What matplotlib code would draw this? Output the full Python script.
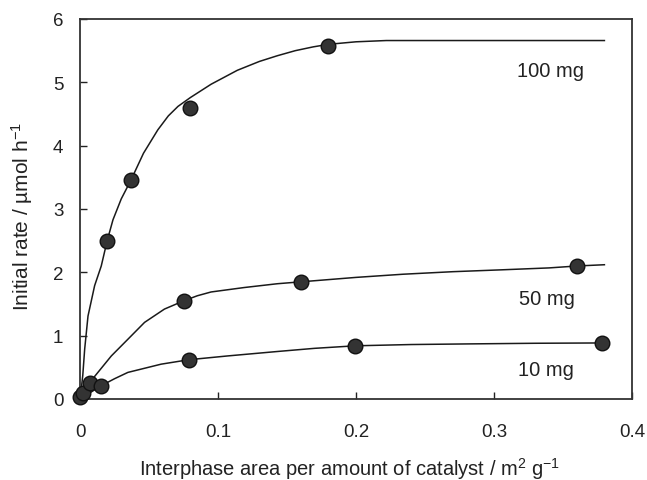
import matplotlib
matplotlib.use("Agg")
import matplotlib.pyplot as plt

plt.rcParams['font.family'] = ['Liberation Sans', 'DejaVu Sans']
plt.rcParams['mathtext.default'] = 'regular'

# measured points
x_100 = [0.0, 0.0197, 0.037, 0.0798, 0.180]
y_100 = [0.03, 2.50, 3.46, 4.60, 5.58]
x_50 = [0.002, 0.007, 0.0752, 0.160, 0.360]
y_50 = [0.10, 0.26, 1.55, 1.85, 2.10]
x_10 = [0.0154, 0.0788, 0.1996, 0.378]
y_10 = [0.21, 0.62, 0.84, 0.885]

# fitted curves
cx_100 = [0.0, 0.001, 0.002, 0.0034, 0.0058, 0.0106, 0.0154, 0.0197, 0.0239, 0.0299, 0.037,
          0.046, 0.0564, 0.064, 0.071, 0.080, 0.095, 0.114, 0.130, 0.143, 0.156, 0.169,
          0.180, 0.200, 0.222, 0.380]
cy_100 = [0.0, 0.18, 0.37, 0.79, 1.31, 1.79, 2.10, 2.50, 2.83, 3.16, 3.46,
          3.88, 4.25, 4.47, 4.62, 4.76, 4.97, 5.19, 5.33, 5.42, 5.50, 5.56,
          5.60, 5.64, 5.66, 5.66]
cx_50 = [0.0, 0.007, 0.0227, 0.035, 0.0468, 0.0612, 0.0752, 0.085, 0.095, 0.119, 0.143, 0.160,
         0.200, 0.234, 0.270, 0.306, 0.340, 0.360, 0.380]
cy_50 = [0.0, 0.26, 0.68, 0.95, 1.21, 1.42, 1.55, 1.63, 1.69, 1.76, 1.82, 1.85,
         1.92, 1.97, 2.01, 2.04, 2.07, 2.10, 2.12]
cx_10 = [0.0, 0.0154, 0.025, 0.0347, 0.0588, 0.0788, 0.107, 0.143, 0.170, 0.1996,
         0.240, 0.282, 0.330, 0.378]
cy_10 = [0.0, 0.21, 0.32, 0.42, 0.55, 0.62, 0.68, 0.75, 0.80, 0.84,
         0.86, 0.87, 0.88, 0.885]

labels = ["100 mg", "50 mg", "10 mg"]
xticks = [0, 0.1, 0.2, 0.3, 0.4]
xticklabels = ["0", "0.1", "0.2", "0.3", "0.4"]
yticks = [0, 1, 2, 3, 4, 5, 6]

fig = plt.figure(figsize=(6.47, 4.81), dpi=100)
ax = fig.add_axes([80/647, 1-400/481, (632-80)/647, (400-20)/481])

for cx, cy in [(cx_100, cy_100), (cx_50, cy_50), (cx_10, cy_10)]:
    ax.plot(cx, cy, color='#1a1a1a', lw=1.1, zorder=2, clip_on=False,
            solid_joinstyle='round')

for x, y in [(x_100, y_100), (x_50, y_50), (x_10, y_10)]:
    ax.plot(x, y, 'o', ms=10.5, mfc='#333333', mec='#111111', mew=1.0,
            zorder=3, clip_on=False)

ax.text(0.3406, 5.18, labels[0], fontsize=14.5, ha='center', va='center', color='#222222')
ax.text(0.338, 1.58, labels[1], fontsize=14.5, ha='center', va='center', color='#222222')
ax.text(0.3377, 0.47, labels[2], fontsize=14.5, ha='center', va='center', color='#222222')

ax.set_xlim(0, 0.4)
ax.set_ylim(0, 6)
ax.set_xticks(xticks)
ax.set_xticklabels(xticklabels)
ax.set_yticks(yticks)
ax.tick_params(direction='in', length=5, width=1, labelsize=13.5, colors='#222222',
               top=False, right=False)
ax.tick_params(axis='x', pad=17)
ax.tick_params(axis='y', pad=12)
for s in ax.spines.values():
    s.set_color('#333333')
    s.set_linewidth(1.3)

fig.text(350/647, 1-469/481, "Interphase area per amount of catalyst / m$^2$ g$^{-1}$",
         fontsize=14.5, color='#222222', ha='center', va='center')
fig.text(22/647, 1-216/481, "Initial rate / µmol h$^{-1}$", fontsize=15, color='#222222',
         ha='center', va='center', rotation=90)

fig.savefig("out.png", dpi=100)
